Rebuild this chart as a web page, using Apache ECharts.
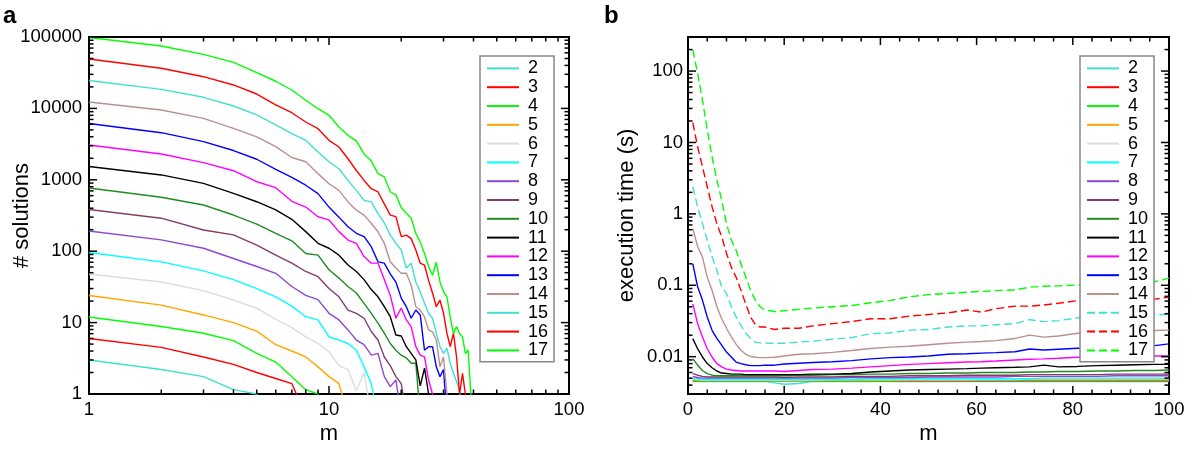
<!DOCTYPE html>
<html><head><meta charset="utf-8">
<script src="https://cdn.jsdelivr.net/npm/echarts@6/dist/echarts.min.js"></script>
<style>html,body{margin:0;padding:0;background:#fff}#c{width:1200px;height:452px}</style>
</head><body><div id="c"></div><script>
// ---------- data ----------
const names = ['2','3','4','5','6','7','8','9','10','11','12','13','14','15','16','17'];
const colors = ['#40E0D0','#FF0000','#00FF00','#FFA500','#DCDCDC','#00FFFF','#9046CF','#803D6B',
                '#228B22','#000000','#FF00FF','#0000FF','#BC8F8F','#40E0D0','#FF0000','#00FF00'];
const dashedInB = ['15','16','17'];

// panel a: # solutions vs m (m = 1, 2, 3, ...); 0 = no solution
const mA = [1,2,3,4,5,6,7,8,9,10,11,12,13,14,15,16,17,18,19,20,21,22,23,24,25,26,27,28,29,30,31,32,33,34,35,36,37,38,39,40];
const sol2  = [3, 2.2, 1.75, 1.15, 1.0, 0];
const sol3  = [6, 4.5, 3.3, 2.6, 2.0, 1.65, 1.4, 0];
const sol4  = [12, 8.8, 7.1, 5.6, 3.7, 2.8, 1.75, 1.15, 1.0, 0];
const sol5  = [24, 17.6, 12.8, 10, 7.6, 4.9, 4.0, 3.3, 2.4, 1.75, 1.4, 0];
const sol6  = [48, 37, 28, 20.7, 15.9, 11.1, 8.5, 6.3, 5.1, 3.9, 2.5, 2.2, 1.1, 2.0, 0];
const sol7  = [96, 71, 53, 40, 30, 23, 17, 12.1, 10.9, 6.3, 5.7, 5.1, 4.1, 2.4, 1.4, 0];
const sol8  = [192, 144, 110, 79, 61, 49, 32, 24, 21, 13.5, 10.9, 7.9, 5.7, 4.9, 3.5, 3.7, 1.75, 1.27, 1.57, 0];
const sol9  = [384, 290, 198, 169, 122, 88, 68, 52, 44, 30, 23, 15, 13.5, 11.5, 7.5, 5.7, 3.3, 2.5, 1.75, 1.4, 0];
const sol10 = [768, 569, 444, 321, 240, 178, 140, 93, 88, 55, 42, 32, 26, 18.6, 13.5, 9.8, 7.1, 5.1, 4.1, 3.5, 3.2, 2.7, 2.7, 0];
const sol11 = [1536, 1170, 890, 645, 493, 378, 280, 188, 129, 110, 88, 64, 52, 40, 29, 23, 16.7, 12.1, 6.7, 6.5, 4.6, 3.7, 3.0, 1.3, 2.3, 1, 1, 1, 0];
const sol12 = [3072, 2300, 1740, 1340, 940, 775, 500, 415, 304, 274, 188, 143, 129, 84, 68, 68, 40, 24, 11.5, 16, 10.9, 8.8, 4.6, 3.5, 3.3, 1.57, 1, 0];
const sol13 = [6144, 4570, 3420, 2570, 1940, 1400, 1080, 840, 640, 415, 300, 220, 178, 160, 116, 71, 68, 48, 37, 22, 16.7, 11.5, 15, 12.8, 4.1, 4.6, 4.6, 2.4, 1.75, 2.2, 0];
const sol14 = [12288, 9500, 7250, 5260, 4000, 2910, 2050, 1790, 1220, 880, 710, 490, 375, 320, 246, 187, 129, 71, 58, 49, 49, 33.6, 16.7, 15, 12, 7.9, 7.4, 5.7, 2.4, 3.3, 1, 0];
const sol15 = [24576, 18500, 14300, 10800, 8100, 5860, 4450, 3570, 2450, 1790, 1430, 980, 710, 515, 490, 335, 250, 168, 129, 104, 58, 68, 37, 27, 18.6, 13.5, 11.5, 7.1, 4.6, 3.7, 4.4, 2.7, 1.95, 1.5, 1.1, 0];
const sol16 = [49152, 36500, 27800, 21300, 15900, 11200, 8700, 6450, 5200, 3570, 2880, 1970, 1350, 980, 750, 675, 460, 320, 305, 160, 168, 150, 104, 68, 64, 39, 26, 16.7, 20.7, 13.5, 7.1, 4.6, 7.1, 3.3, 1, 1.95, 1, 0];
const sol17 = [98304, 74800, 57200, 44200, 31600, 24000, 18100, 13000, 9900, 8000, 5500, 4200, 3500, 2300, 1830, 1220, 1100, 680, 615, 405, 340, 290, 178, 135, 93, 61, 46, 70, 37, 27, 23, 12, 7, 8.8, 7, 6.3, 3.7, 4.1, 1, 0];

// panel b: execution time (s) vs m
const mB = [1,2,3,4,5,6,7,8,9,10,11,12,13,14,15,16,18,20,23,26,30,34,38,42,46,50,54,58,61,64,68,71,74,77,81,85,89,93,97,100];
const t2  = [0.0045,0.0045,0.0045,0.0045,0.0045,0.0045,0.0045,0.0045,0.0045,0.0045,0.0045,0.0045,0.0045,0.0045,0.0045,0.0045,0.0043,0.0041,0.0042,0.0045,0.0045,0.0045,0.0045,0.0045,0.0045,0.0045,0.0045,0.0045,0.0045,0.0045,0.0045,0.0045,0.0045,0.0045,0.0045,0.0045,0.0045,0.0045,0.0045,0.0045];
const t3  = [0.0046,0.0046,0.0046,0.0046,0.0046,0.0046,0.0046,0.0046,0.0046,0.0046,0.0046,0.0046,0.0046,0.0046,0.0046,0.0046,0.0046,0.0046,0.0046,0.0046,0.0046,0.0046,0.0046,0.0046,0.0046,0.0046,0.0046,0.0046,0.0046,0.0046,0.0046,0.0046,0.0046,0.0046,0.0046,0.0046,0.0046,0.0046,0.0046,0.0046];
const t4  = [0.0047,0.0046,0.0046,0.0046,0.0046,0.0046,0.0046,0.0046,0.0046,0.0046,0.0046,0.0046,0.0046,0.0046,0.0046,0.0046,0.0046,0.0046,0.0046,0.0046,0.0046,0.0046,0.0046,0.0046,0.0047,0.0047,0.0047,0.0047,0.0047,0.0047,0.0047,0.0047,0.0047,0.0047,0.0047,0.0047,0.0047,0.0047,0.0047,0.0047];
const t5  = [0.0048,0.0047,0.0047,0.0047,0.0047,0.0047,0.0047,0.0047,0.0047,0.0047,0.0047,0.0047,0.0047,0.0047,0.0047,0.0047,0.0047,0.0047,0.0047,0.0047,0.0047,0.0047,0.0047,0.0047,0.0047,0.0047,0.0047,0.0047,0.0048,0.0048,0.0048,0.0048,0.0048,0.0048,0.0048,0.0048,0.0048,0.0048,0.0048,0.0048];
const t6  = [0.0049,0.0048,0.0047,0.0047,0.0047,0.0047,0.0047,0.0047,0.0047,0.0047,0.0047,0.0047,0.0047,0.0047,0.0047,0.0047,0.0047,0.0047,0.0047,0.0047,0.0048,0.0048,0.0048,0.0048,0.0048,0.0048,0.0048,0.0048,0.0048,0.0048,0.0048,0.0049,0.0049,0.0049,0.0049,0.0049,0.0049,0.0049,0.0049,0.0049];
const t7  = [0.0050,0.0049,0.0048,0.0048,0.0048,0.0048,0.0048,0.0048,0.0048,0.0048,0.0048,0.0048,0.0048,0.0048,0.0048,0.0048,0.0048,0.0048,0.0048,0.0048,0.0048,0.0048,0.0049,0.0049,0.0049,0.0049,0.0049,0.0049,0.0049,0.0049,0.0049,0.0049,0.0050,0.0050,0.0050,0.0050,0.0050,0.0050,0.0050,0.0050];
const t8  = [0.0053,0.0051,0.0050,0.0050,0.0050,0.0050,0.0050,0.0050,0.0050,0.0050,0.0050,0.0050,0.0050,0.0050,0.0050,0.0050,0.0050,0.0050,0.0050,0.0050,0.0050,0.0051,0.0051,0.0051,0.0051,0.0052,0.0052,0.0052,0.0052,0.0052,0.0053,0.0053,0.0053,0.0053,0.0053,0.0053,0.0054,0.0054,0.0054,0.0054];
const t9  = [0.0058,0.0055,0.0053,0.0052,0.0052,0.0052,0.0052,0.0052,0.0052,0.0052,0.0052,0.0052,0.0052,0.0052,0.0052,0.0052,0.0052,0.0051,0.0052,0.0052,0.0052,0.0053,0.0053,0.0053,0.0054,0.0054,0.0054,0.0055,0.0055,0.0055,0.0055,0.0056,0.0056,0.0056,0.0056,0.0056,0.0057,0.0057,0.0057,0.0057];
const t10 = [0.0094,0.0076,0.0064,0.0058,0.0055,0.0054,0.0054,0.0054,0.0054,0.0054,0.0054,0.0054,0.0054,0.0054,0.0054,0.0054,0.0054,0.0054,0.0055,0.0055,0.0056,0.0056,0.0057,0.0057,0.0058,0.0058,0.0059,0.0059,0.0060,0.0060,0.0060,0.0061,0.0061,0.0062,0.0062,0.0063,0.0063,0.0064,0.0064,0.0065];
const t11 = [0.0179,0.0129,0.0099,0.0080,0.0070,0.0063,0.0059,0.0058,0.0057,0.0057,0.0057,0.0056,0.0056,0.0056,0.0056,0.0056,0.0056,0.0056,0.0056,0.0057,0.0057,0.0058,0.0061,0.0063,0.0065,0.0066,0.0067,0.0068,0.0069,0.0070,0.0071,0.0072,0.0076,0.0072,0.0073,0.0075,0.0076,0.0077,0.0078,0.0078];
const t12 = [0.055,0.029,0.019,0.0129,0.0099,0.0080,0.0072,0.0067,0.0065,0.0064,0.0063,0.0063,0.0063,0.0063,0.0063,0.0063,0.0063,0.0062,0.0064,0.0066,0.0067,0.0069,0.0072,0.0075,0.0078,0.0080,0.0082,0.0084,0.0085,0.0087,0.0090,0.0092,0.0093,0.0095,0.0098,0.0099,0.0100,0.0101,0.0102,0.0102];
const t13 = [0.20,0.095,0.062,0.036,0.0234,0.018,0.0145,0.0116,0.0099,0.0084,0.0080,0.0077,0.0075,0.0075,0.0075,0.0076,0.0076,0.0079,0.0081,0.0083,0.0085,0.0088,0.0093,0.0097,0.0099,0.0102,0.0108,0.0110,0.0112,0.0114,0.0117,0.0128,0.0124,0.0127,0.0131,0.0134,0.0137,0.0140,0.0143,0.0151];
const t14 = [0.62,0.35,0.25,0.13,0.085,0.050,0.034,0.025,0.019,0.015,0.0123,0.0108,0.0101,0.0098,0.0097,0.0097,0.0098,0.0102,0.0108,0.0110,0.0115,0.0122,0.0130,0.0136,0.0140,0.0147,0.0154,0.0160,0.0163,0.0168,0.0180,0.0200,0.0188,0.0195,0.0213,0.0220,0.0225,0.0228,0.0232,0.0235];
const t15 = [2.4,1.26,0.73,0.43,0.25,0.163,0.095,0.077,0.050,0.036,0.0275,0.0215,0.018,0.016,0.0156,0.0155,0.0154,0.0154,0.0160,0.0165,0.0175,0.0185,0.021,0.0215,0.0235,0.024,0.026,0.027,0.027,0.028,0.029,0.033,0.031,0.032,0.035,0.035,0.036,0.037,0.039,0.039];
const t16 = [19,8.7,4.6,2.4,1.26,0.73,0.48,0.28,0.18,0.13,0.085,0.055,0.036,0.028,0.026,0.026,0.024,0.025,0.025,0.027,0.029,0.031,0.034,0.034,0.037,0.039,0.041,0.045,0.042,0.047,0.051,0.051,0.053,0.056,0.061,0.062,0.063,0.063,0.064,0.068];
const t17 = [198,93,39.5,15,6.3,3.0,1.56,0.73,0.43,0.31,0.20,0.131,0.085,0.062,0.050,0.045,0.043,0.044,0.046,0.048,0.050,0.052,0.057,0.061,0.069,0.074,0.077,0.080,0.082,0.084,0.086,0.094,0.097,0.098,0.101,0.103,0.105,0.107,0.112,0.126];

// tick labels / tick positions
const aXMajor = [1, 10, 100];
const aXMinor = [2,3,4,5,6,7,8,9,20,30,40,50,60,70,80,90];
const aYMajor = [1, 10, 100, 1000, 10000, 100000];
const aYMinor = [];
[1,10,100,1000,10000].forEach(d => [2,3,4,5,6,7,8,9].forEach(k => aYMinor.push(k*d)));
const bXMajor = [0, 20, 40, 60, 80, 100];
const bXMinor = [4,8,12,16,24,28,32,36,44,48,52,56,64,68,72,76,84,88,92,96];
const bYMajor = [0.01, 0.1, 1, 10, 100];
const bYMinor = [];
[0.001,0.01,0.1,1,10,100].forEach(d => [2,3,4,5,6,7,8,9].forEach(k => {
  const v = +(k*d).toPrecision(6); if (v > 0.003 && v < 300) bYMinor.push(v);
}));

const solutions = [sol2,sol3,sol4,sol5,sol6,sol7,sol8,sol9,sol10,sol11,sol12,sol13,sol14,sol15,sol16,sol17];
const times = [t2,t3,t4,t5,t6,t7,t8,t9,t10,t11,t12,t13,t14,t15,t16,t17];

// ---------- chart ----------
const FONT = 'Liberation Sans, Arial, Helvetica, sans-serif';
const ZERO_PLOT = 0.5; // zero counts are drawn below the log axis floor (1) so lines run off the bottom
const A = { xMin: 1, xMax: 100, yMin: 1, yMax: 100000 };
const B = { xMin: 0, xMax: 100, yMin: 0.003, yMax: 300 };

function decadeLabel(v) {
  const l = Math.log10(v);
  if (Math.abs(l - Math.round(l)) > 1e-6) return '';
  return String(Number(v.toPrecision(6)));
}

function tickSeries(idx, xMaj, xMin, yMaj, yMin, anchorX, anchorY) {
  const items = [];
  xMaj.forEach(v => items.push({ d: 'x', v, len: 8 }));
  xMin.forEach(v => items.push({ d: 'x', v, len: 4.5 }));
  yMaj.forEach(v => items.push({ d: 'y', v, len: 8 }));
  yMin.forEach(v => items.push({ d: 'y', v, len: 4.5 }));
  return {
    type: 'custom', xAxisIndex: idx, yAxisIndex: idx, silent: true, clip: false, z: 10,
    animation: false,
    data: items.map(() => [anchorX, anchorY]),
    renderItem(params, api) {
      const it = items[params.dataIndex];
      const cs = params.coordSys;
      const st = { stroke: '#000', lineWidth: 1.5 };
      if (it.d === 'x') {
        const x = api.coord([it.v, anchorY])[0];
        const b = cs.y + cs.height, t = cs.y;
        return { type: 'group', children: [
          { type: 'line', shape: { x1: x, y1: b, x2: x, y2: b - it.len }, style: st },
          { type: 'line', shape: { x1: x, y1: t, x2: x, y2: t + it.len }, style: st }
        ]};
      }
      const y = api.coord([anchorX, it.v])[1];
      const l = cs.x, r = cs.x + cs.width;
      return { type: 'group', children: [
        { type: 'line', shape: { x1: l, y1: y, x2: l + it.len, y2: y }, style: st },
        { type: 'line', shape: { x1: r, y1: y, x2: r - it.len, y2: y }, style: st }
      ]};
    }
  };
}

const series = [];
names.forEach((n, i) => {
  series.push({
    name: n, type: 'line', xAxisIndex: 0, yAxisIndex: 0, symbol: 'none', showSymbol: false,
    animation: false, clip: true,
    lineStyle: { color: colors[i], width: 1.4 }, itemStyle: { color: colors[i] },
    data: solutions[i].map((v, k) => [mA[k], v > 0 ? v : ZERO_PLOT])
  });
});
names.forEach((n, i) => {
  series.push({
    name: n, type: 'line', xAxisIndex: 1, yAxisIndex: 1, symbol: 'none', showSymbol: false,
    animation: false, clip: true,
    lineStyle: { color: colors[i], width: 1.4, type: dashedInB.includes(n) ? [8, 4] : 'solid' },
    itemStyle: { color: colors[i] },
    data: times[i].map((v, k) => [mB[k], v])
  });
});
series.push(tickSeries(0, aXMajor, aXMinor, aYMajor, aYMinor, A.xMin, A.yMin));
series.push(tickSeries(1, bXMajor, bXMinor, bYMajor, bYMinor, B.xMin, B.yMin));

const legendBase = {
  orient: 'vertical', top: 56, padding: [3, 6, 2, 6], itemGap: 0, itemWidth: 32, itemHeight: 14,
  backgroundColor: '#fff', borderColor: '#888', borderWidth: 1.5, selectedMode: false,
  lineStyle: { width: 2 },
  itemStyle: { opacity: 0, borderWidth: 0 },
  textStyle: { fontSize: 18, lineHeight: 18.8, color: '#000', fontFamily: FONT, padding: [0, 0, 0, 4] }
};

const axisLabelStyle = { fontSize: 18.5, color: '#000', fontFamily: FONT };
const nameStyle = { fontSize: 22, color: '#000', fontFamily: FONT };

const option = {
  backgroundColor: '#fff',
  animation: false,
  textStyle: { fontFamily: FONT },
  graphic: [
    { type: 'text', left: 3, top: 4, style: { text: 'a', font: 'bold 24px ' + FONT, fill: '#000' } },
    { type: 'text', left: 604, top: 4, style: { text: 'b', font: 'bold 24px ' + FONT, fill: '#000' } }
  ],
  grid: [
    { left: 89, top: 37, width: 480, height: 357, show: true, borderColor: '#000', borderWidth: 2, backgroundColor: 'transparent' },
    { left: 688, top: 37, width: 481, height: 357, show: true, borderColor: '#000', borderWidth: 2, backgroundColor: 'transparent' }
  ],
  xAxis: [
    { type: 'log', logBase: 10, gridIndex: 0, min: A.xMin, max: A.xMax,
      name: 'm', nameLocation: 'middle', nameGap: 29, nameMoveOverlap: false, nameTextStyle: nameStyle,
      axisLine: { show: false }, axisTick: { show: false }, splitLine: { show: false }, minorTick: { show: false },
      axisLabel: { ...axisLabelStyle, margin: 6, formatter: decadeLabel } },
    { type: 'value', gridIndex: 1, min: B.xMin, max: B.xMax, interval: 20,
      name: 'm', nameLocation: 'middle', nameGap: 29, nameMoveOverlap: false, nameTextStyle: nameStyle,
      axisLine: { show: false }, axisTick: { show: false }, splitLine: { show: false },
      axisLabel: { ...axisLabelStyle, margin: 6 } }
  ],
  yAxis: [
    { type: 'log', logBase: 10, gridIndex: 0, min: A.yMin, max: A.yMax,
      name: '# solutions', nameLocation: 'middle', nameGap: 56, nameMoveOverlap: false, nameTextStyle: nameStyle,
      axisLine: { show: false }, axisTick: { show: false }, splitLine: { show: false },
      axisLabel: { ...axisLabelStyle, margin: 7, formatter: decadeLabel } },
    { type: 'log', logBase: 10, gridIndex: 1, min: B.yMin, max: B.yMax,
      name: 'execution time (s)', nameLocation: 'middle', nameGap: 50, nameMoveOverlap: false, nameTextStyle: nameStyle,
      axisLine: { show: false }, axisTick: { show: false }, splitLine: { show: false },
      axisLabel: { ...axisLabelStyle, margin: 5, formatter: decadeLabel, showMinLabel: false, showMaxLabel: false } }
  ],
  legend: [
    { ...legendBase, left: 480, data: names.map(n => ({ name: n })) },
    { ...legendBase, left: 1080, data: names.map(n => dashedInB.includes(n)
        ? { name: n, lineStyle: { type: [8, 4], width: 2 } } : { name: n }) }
  ],
  series
};

const chart = echarts.init(document.getElementById('c'), null, { renderer: 'canvas' });
chart.setOption(option);
</script></body></html>
